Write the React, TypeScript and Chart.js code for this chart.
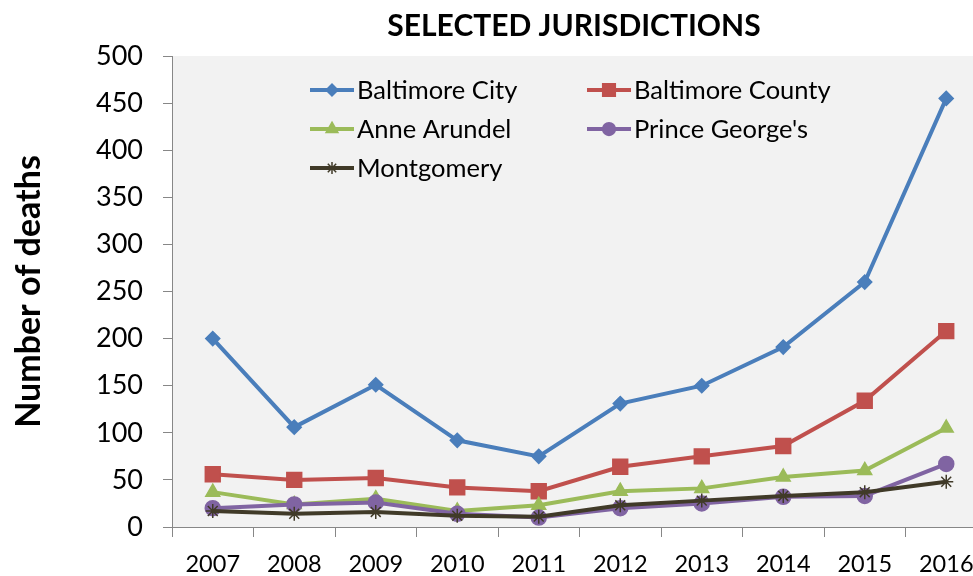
import React, { useEffect, useRef } from "react";
import { Chart, registerables } from "chart.js";
import { drawPoint } from "chart.js/helpers";

Chart.register(...registerables);

const years = ["2007", "2008", "2009", "2010", "2011", "2012", "2013", "2014", "2015", "2016"];
const baltimoreCity = [200, 106, 151, 92, 75, 131, 150, 191, 260, 455];
const baltimoreCounty = [56, 50, 52, 42, 38, 64, 75, 86, 134, 208];
const anneArundel = [37, 24, 30, 17, 23, 38, 41, 53, 60, 105];
const princeGeorges = [20, 24, 26, 14, 10, 20, 25, 32, 33, 67];
const montgomery = [17, 14, 16, 12, 11, 23, 28, 33, 37, 48];

const seriesNames = ["Baltimore City", "Baltimore County", "Anne Arundel", "Prince George's", "Montgomery"];
const colors = ["#4A7EBB", "#C0504D", "#9BBB59", "#8064A2", "#403A28"];
const pointStyles = ["rectRot", "rect", "triangle", "circle", "star"];
const pointRadii = [7, 10.5, 8, 7.5, 7];
const yTicks = [0, 50, 100, 150, 200, 250, 300, 350, 400, 450, 500];

const FONT = "Lato, 'Open Sans', sans-serif";

const CW = 1000;
const CH = 576;
const AREA = { left: 172, top: 56, right: 987, bottom: 527 };

export default function App() {
  const ref = useRef<HTMLCanvasElement>(null);
  useEffect(() => {
    document.body.style.margin = "0";
    document.body.style.overflow = "hidden";
    document.documentElement.style.overflow = "hidden";
    const values = [baltimoreCity, baltimoreCounty, anneArundel, princeGeorges, montgomery];
    const bgPlugin = {
      id: "bgPlugin",
      beforeDraw(chart: any) {
        const { ctx, chartArea } = chart;
        ctx.save();
        ctx.fillStyle = "#ffffff";
        ctx.fillRect(0, 0, chart.width, chart.height);
        ctx.fillStyle = "#F2F2F2";
        ctx.fillRect(chartArea.left, chartArea.top, chartArea.right - chartArea.left, chartArea.bottom - chartArea.top);
        ctx.restore();
      },
      afterDraw(chart: any) {
        const { ctx } = chart;
        ctx.save();
        // title
        ctx.fillStyle = "#000";
        ctx.font = `bold 30px ${FONT}`;
        ctx.textAlign = "center";
        ctx.textBaseline = "middle";
        ctx.fillText("SELECTED JURISDICTIONS", 574, 26);
        // legend
        const pos = [
          [310, 90],
          [587, 90],
          [310, 129],
          [587, 129],
          [310, 168],
        ];
        ctx.font = `25.5px ${FONT}`;
        ctx.textAlign = "left";
        seriesNames.forEach((name, i) => {
          const [x, y] = pos[i];
          ctx.strokeStyle = colors[i];
          ctx.fillStyle = colors[i];
          ctx.lineWidth = 4;
          ctx.beginPath();
          ctx.moveTo(x, y);
          ctx.lineTo(x + 44, y);
          ctx.stroke();
          ctx.lineWidth = 1.5;
          drawPoint(ctx, { pointStyle: pointStyles[i], radius: pointRadii[i] * 0.85, rotation: 0, borderWidth: 1.5 } as any, x + 22, y);
          ctx.fillStyle = "#000";
          ctx.fillText(name, x + 47, y + 1);
        });
        ctx.restore();
      },
    };
    const chart = new Chart(ref.current!, {
      type: "line",
      data: {
        labels: years,
        datasets: seriesNames.map((name, i) => ({
          label: name,
          data: values[i],
          borderColor: colors[i],
          backgroundColor: colors[i],
          pointBackgroundColor: colors[i],
          pointBorderColor: colors[i],
          pointBorderWidth: 1.5,
          borderWidth: 4,
          pointStyle: pointStyles[i] as any,
          pointRadius: pointRadii[i],
          tension: 0,
          order: 4 - i,
        })),
      },
      options: {
        animation: false,
        responsive: false,
        devicePixelRatio: 1,
        layout: { padding: { left: 0, top: AREA.top, right: CW - AREA.right, bottom: 0 } },
        plugins: { legend: { display: false }, title: { display: false }, tooltip: { enabled: false } },
        scales: {
          x: {
            type: "category",
            offset: true,
            grid: { display: true, drawOnChartArea: false, drawTicks: true, tickLength: 10, color: "#878787", offset: true },
            border: { display: true, color: "#878787", width: 1 },
            ticks: { color: "#000", font: { family: FONT, size: 23.5 }, padding: 13, maxRotation: 0, autoSkip: false },
            afterFit: (s: any) => {
              s.height = CH - AREA.bottom;
            },
          },
          y: {
            min: 0,
            max: 500,
            afterBuildTicks: (s: any) => {
              s.ticks = yTicks.map((v) => ({ value: v }));
            },
            grid: { display: true, drawOnChartArea: false, drawTicks: true, tickLength: 9, color: "#878787" },
            border: { display: true, color: "#878787", width: 1 },
            ticks: { color: "#000", font: { family: FONT, size: 27 }, padding: 20 },
            title: { display: true, text: "Number of deaths", color: "#000", font: { family: FONT, size: 34, weight: "bold" }, padding: { top: 9, bottom: 0 } },
            afterFit: (s: any) => {
              s.width = AREA.left;
            },
          },
        },
      },
      plugins: [bgPlugin],
    });
    return () => chart.destroy();
  }, []);
  return (
    <div style={{ position: "absolute", left: 0, top: 0, width: CW, height: CH, overflow: "hidden" }}>
      <canvas ref={ref} width={CW} height={CH} style={{ width: CW, height: CH, display: "block" }} />
    </div>
  );
}
